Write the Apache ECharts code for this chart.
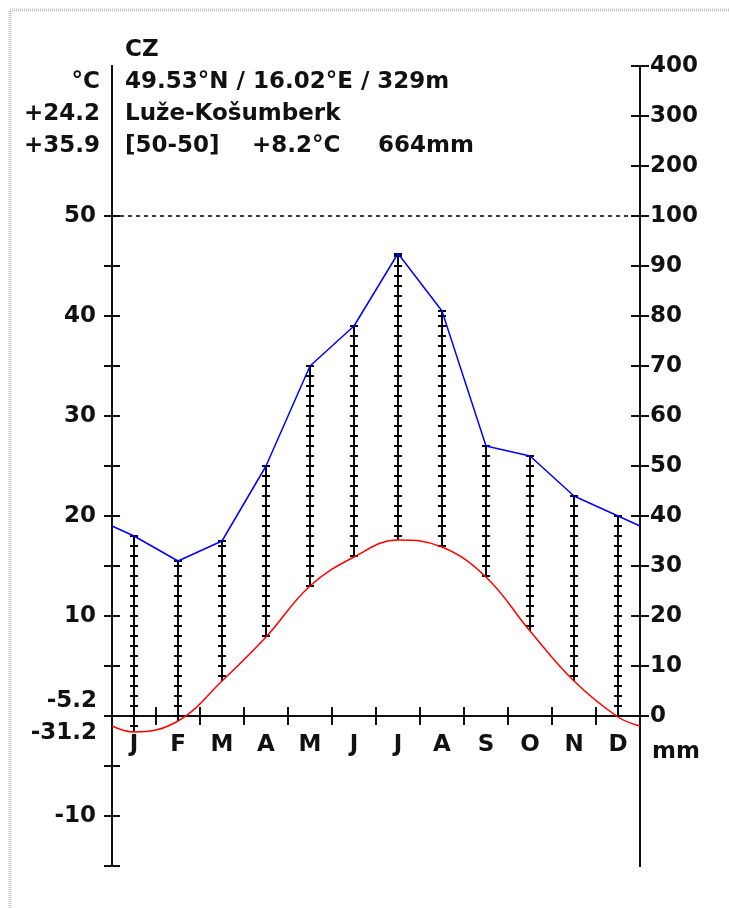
<!DOCTYPE html>
<html>
<head>
<meta charset="utf-8">
<title>Luže-Košumberk climate diagram</title>
<script src="https://cdn.jsdelivr.net/npm/echarts@6/dist/echarts.min.js"></script>
<style>
  html, body { margin: 0; padding: 0; background: #ffffff; }
  #chart { width: 729px; height: 908px; }
</style>
</head>
<body>
<div id="chart"></div>
<script>
// Walter–Lieth climate diagram, station Luže-Košumberk (CZ)
const months = ['J', 'F', 'M', 'A', 'M', 'J', 'J', 'A', 'S', 'O', 'N', 'D'];
const temperature = [-1.6, -0.5, 3.5, 7.9, 13.0, 15.9, 17.6, 16.9, 13.9, 8.5, 3.5, -0.1];   // °C
const precipitation = [36, 31, 35, 50, 70, 78, 92.5, 81, 54, 52, 44, 40];                    // mm
// values at the year boundary (31 Dec / 1 Jan), where both curves meet the frame
const boundaryTemperature = -1.0;
const boundaryPrecipitation = 38;

const tempTickValues = [-15, -10, -5, 0, 5, 10, 15, 20, 25, 30, 35, 40, 45, 50];
const tempLabelValues = [-10, 10, 20, 30, 40, 50];
const precipTickValues = [0, 10, 20, 30, 40, 50, 60, 70, 80, 90, 100, 110, 120, 130];
const monthTickValues = [1, 2, 3, 4, 5, 6, 7, 8, 9, 10, 11];

const headerLines = ['CZ', '49.53°N / 16.02°E / 329m', 'Luže-Košumberk'];
const periodText = ['[50-50]', '+8.2°C', '664mm'];
const sideLabels = ['°C', '+24.2', '+35.9'];
const frostLabels = ['-5.2', '-31.2'];

const FONT = '"DejaVu Sans", Verdana, sans-serif';
const INK = '#111111';

// plot frame in pixels; the month axis sits on the 0 °C line
const GRID = { left: 112, right: 89, top: 66, bottom: 42 };
const TEMP_MIN = -15, TEMP_MAX = 65;
const plotHeight = 908 - GRID.top - GRID.bottom;
const zeroFromBottom = plotHeight * (0 - TEMP_MIN) / (TEMP_MAX - TEMP_MIN);

// above 100 mm the precipitation scale is compressed ten-fold
function precipLabel(v) {
  return v <= 100 ? String(v) : String(100 + (v - 100) * 10);
}

const monthCentres = months.map((m, i) => i + 0.5);
const tempLine = [[0, boundaryTemperature]]
  .concat(temperature.map((t, i) => [monthCentres[i], t]))
  .concat([[12, boundaryTemperature]]);
const precipLine = [[0, boundaryPrecipitation]]
  .concat(precipitation.map((p, i) => [monthCentres[i], p]))
  .concat([[12, boundaryPrecipitation]]);
// humid period hatching: 10 °C corresponds to 20 mm
const hatchData = temperature.map((t, i) => [monthCentres[i], t, precipitation[i] / 2]);
const boundaryData = monthTickValues.map(v => [v, 0]);

const labelFont = { fontFamily: FONT, fontWeight: 'bold', fontSize: 23, color: INK };
const axisLine = { show: true, lineStyle: { color: INK, width: 2 } };

function tempAxis(inside, withLabels) {
  return {
    type: 'value', position: 'left', min: TEMP_MIN, max: TEMP_MAX,
    axisLine: axisLine,
    axisTick: { show: true, inside: inside, length: 8, customValues: tempTickValues,
      lineStyle: { color: INK, width: 2 } },
    axisLabel: Object.assign({ show: withLabels, margin: 16, customValues: tempLabelValues }, labelFont),
    splitLine: { show: false }
  };
}
function precipAxis(inside, withLabels) {
  return {
    type: 'value', position: 'right', min: -30, max: 130,
    axisLine: axisLine,
    axisTick: { show: true, inside: inside, length: 9, customValues: precipTickValues,
      lineStyle: { color: INK, width: 2 } },
    axisLabel: Object.assign({ show: withLabels, margin: 10, customValues: precipTickValues,
      formatter: precipLabel }, labelFont),
    splitLine: { show: false }
  };
}

const textEls = [];
function addText(text, x, y, align) {
  textEls.push({
    type: 'text', x: x, y: y, silent: true,
    style: { text: text, fill: INK, font: 'bold 23px ' + FONT,
      textAlign: align, textVerticalAlign: 'middle' }
  });
}
headerLines.forEach((s, i) => addText(s, 125, 50 + i * 32, 'left'));
addText(periodText[0], 125, 146, 'left');
addText(periodText[1], 252, 146, 'left');
addText(periodText[2], 378, 146, 'left');
sideLabels.forEach((s, i) => addText(s, 100, 82 + i * 32, 'right'));
addText(frostLabels[0], 97, 701, 'right');
addText(frostLabels[1], 97, 733, 'right');
addText('mm', 652, 752, 'left');

const chart = echarts.init(document.getElementById('chart'), null, { renderer: 'canvas' });
chart.setOption({
  animation: false,
  backgroundColor: '#ffffff',
  grid: Object.assign({ containLabel: false, outerBoundsMode: 'none' }, GRID),
  xAxis: {
    type: 'value', min: 0, max: 12, position: 'bottom', offset: -zeroFromBottom,
    axisLine: { show: true, onZero: false, lineStyle: { color: INK, width: 2 } },
    axisTick: { show: true, inside: false, length: 9, customValues: monthTickValues,
      lineStyle: { color: INK, width: 2 } },
    axisLabel: Object.assign({ show: true, margin: 18, customValues: monthCentres,
      formatter: v => months[Math.floor(v)] }, labelFont),
    splitLine: { show: false }
  },
  yAxis: [tempAxis(false, true), tempAxis(true, false), precipAxis(false, true), precipAxis(true, false)],
  graphic: [{
    type: 'polyline', silent: true,
    shape: { points: [[10, 908], [10, 10], [729, 10]] },
    style: { stroke: '#c4c4c4', lineWidth: 3, lineDash: [1, 1], fill: null }
  }].concat(textEls),
  series: [
    {
      // upper half of the month-boundary ticks on the 0 °C line
      type: 'custom', name: 'month boundaries', xAxisIndex: 0, yAxisIndex: 0, z: 3,
      encode: { x: 0, y: 1 },
      data: boundaryData,
      renderItem: function (params, api) {
        const c = api.coord([api.value(0), api.value(1)]);
        const x = Math.round(c[0]);
        return { type: 'line', shape: { x1: x, y1: c[1], x2: x, y2: c[1] - 9 },
          style: { stroke: INK, lineWidth: 2 } };
      }
    },
    {
      type: 'custom', name: 'humid', xAxisIndex: 0, yAxisIndex: 0, z: 2,
      encode: { x: 0, y: [1, 2] },
      data: hatchData,
      renderItem: function (params, api) {
        const x = api.value(0), t = api.value(1), p = api.value(2);
        if (p <= t) return null;
        const top = api.coord([x, p]);
        const bottom = api.coord([x, t]);
        const cx = Math.round(top[0]);
        const style = { stroke: '#000000', lineWidth: 2 };
        const children = [{ type: 'line', shape: { x1: cx, y1: Math.round(top[1]), x2: cx, y2: Math.round(bottom[1]) }, style: style }];
        for (let v = Math.ceil(t); v <= p; v++) {
          const cy = Math.round(api.coord([x, v])[1]);
          children.push({ type: 'line', shape: { x1: cx - 4, y1: cy, x2: cx + 4, y2: cy }, style: style });
        }
        const ty = Math.round(top[1]);
        children.push({ type: 'line', shape: { x1: cx - 4, y1: ty, x2: cx + 4, y2: ty }, style: style });
        return { type: 'group', children: children };
      }
    },
    {
      type: 'line', name: 'temperature', xAxisIndex: 0, yAxisIndex: 0, z: 4,
      data: tempLine, smooth: 0.4, symbol: 'none',
      lineStyle: { color: '#ff0000', width: 1.5 }
    },
    {
      type: 'line', name: 'precipitation', xAxisIndex: 0, yAxisIndex: 2, z: 4,
      data: precipLine, smooth: false, symbol: 'none',
      lineStyle: { color: '#0000ff', width: 1.5 },
      markLine: {
        silent: true, symbol: 'none', label: { show: false },
        lineStyle: { color: '#000000', type: [4, 4], width: 1.5 },
        data: [{ yAxis: 100 }]
      }
    }
  ]
});
</script>
</body>
</html>
